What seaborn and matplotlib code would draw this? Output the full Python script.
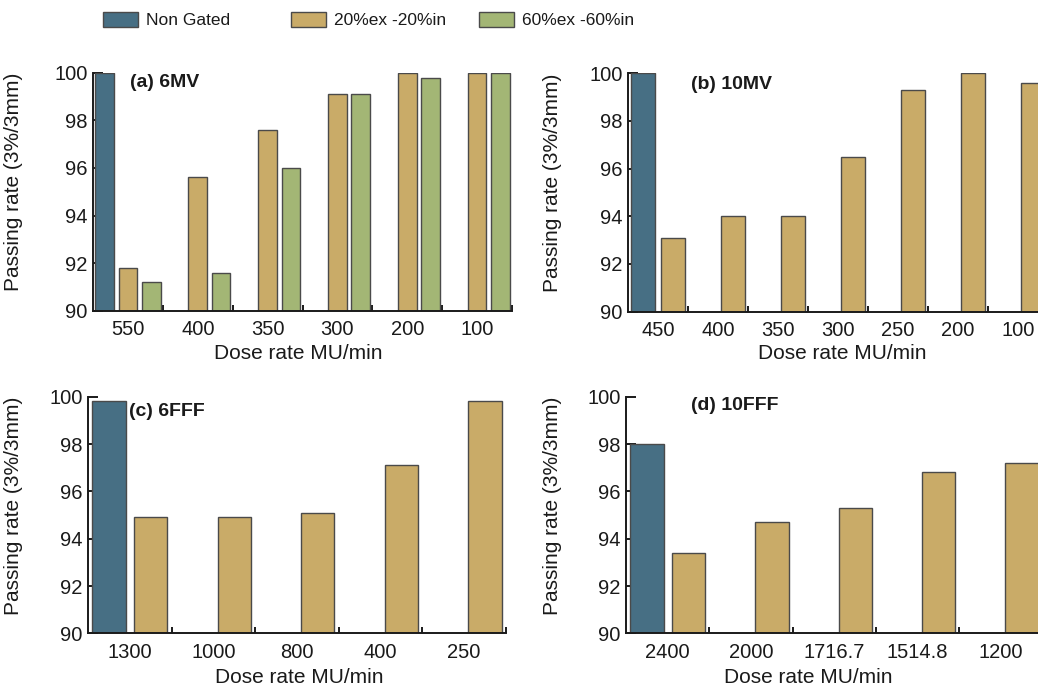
import numpy as np
import pandas as pd
import matplotlib
matplotlib.use("Agg")
import matplotlib.pyplot as plt
from matplotlib.patches import Patch
import seaborn as sns

# ---------------- data ----------------
series_names = ["Non Gated", "20%ex -20%in", "60%ex -60%in"]

a_cats = ["550", "400", "350", "300", "200", "100"]
a_nongated = [100.0]
a_g20 = [91.8, 95.6, 97.6, 99.1, 100.0, 100.0]
a_g60 = [91.2, 91.6, 96.0, 99.1, 99.8, 100.0]

b_cats = ["450", "400", "350", "300", "250", "200", "100"]
b_nongated = [100.0]
b_g20 = [93.1, 94.0, 94.0, 96.5, 99.3, 100.0, 99.6]

c_cats = ["1300", "1000", "800", "400", "250"]
c_nongated = [99.8]
c_g20 = [94.9, 94.9, 95.1, 97.1, 99.8]

d_cats = ["2400", "2000", "1716.7", "1514.8", "1200"]
d_nongated = [98.0]
d_g20 = [93.4, 94.7, 95.3, 96.8, 97.2]

panel_titles = ["(a) 6MV", "(b) 10MV", "(c) 6FFF", "(d) 10FFF"]
x_label = "Dose rate MU/min"
y_label = "Passing rate (3%/3mm)"
y_ticks = [90, 92, 94, 96, 98, 100]

colors = {"Non Gated": "#476f84", "20%ex -20%in": "#c9ab68", "60%ex -60%in": "#a3b675"}
edge = "#4a4a4a"


def long_df(cats, series):
    rows = []
    for name, vals in series:
        for c, v in zip(cats, vals):
            rows.append({"rate": c, "series": name, "value": v})
    return pd.DataFrame(rows)


panels = [
    (a_cats, [("Non Gated", a_nongated), ("20%ex -20%in", a_g20), ("60%ex -60%in", a_g60)]),
    (b_cats, [("Non Gated", b_nongated), ("20%ex -20%in", b_g20)]),
    (c_cats, [("Non Gated", c_nongated), ("20%ex -20%in", c_g20)]),
    (d_cats, [("Non Gated", d_nongated), ("20%ex -20%in", d_g20)]),
]

# ---------------- style ----------------
sns.set_style("ticks")
plt.rcParams["font.family"] = ["Liberation Sans", "DejaVu Sans"]
plt.rcParams["text.color"] = "#1a1a1a"
plt.rcParams["axes.labelcolor"] = "#1a1a1a"
plt.rcParams["xtick.color"] = "#1a1a1a"
plt.rcParams["ytick.color"] = "#1a1a1a"

fig = plt.figure(figsize=(10.38, 6.89), dpi=100)

positions = [
    [0.0896, 0.549, 0.4037, 0.3454],
    [0.6053, 0.5476, 0.4040, 0.3464],
    [0.0848, 0.0808, 0.4024, 0.3434],
    [0.6031, 0.0808, 0.4014, 0.3434],
]
title_xy = [(0.088, 0.957), (0.149, 0.954), (0.099, 0.937), (0.155, 0.965)]
ylab_x = [-0.167, -0.158, -0.156, -0.154]
xlab_xy = [(0.49, -0.14), (0.509, -0.135), (0.505, -0.145), (0.438, -0.145)]

for i, ((cats, series), pos) in enumerate(zip(panels, positions)):
    ax = fig.add_axes(pos)
    df = long_df(cats, series)
    hue_order = [s[0] for s in series]
    sns.barplot(data=df, x="rate", y="value", hue="series", order=cats,
                hue_order=hue_order, palette=colors, saturation=1,
                width=1.0, gap=0.2, dodge=True, edgecolor=edge, linewidth=1.0,
                errorbar=None, legend=False, ax=ax)
    n = len(cats)
    ax.set_xlim(-0.5, n - 0.5)
    ax.set_ylim(90, 100)
    ax.set_yticks(y_ticks)
    ax.set_yticklabels([str(t) for t in y_ticks])
    ax.set_xticks(np.arange(n))
    ax.set_xticklabels(cats)
    ax.set_xticks(np.arange(n) + 0.5, minor=True)
    ax.tick_params(axis="x", which="major", length=0, pad=7, labelsize=14.5)
    ax.tick_params(axis="x", which="minor", direction="in", length=4, width=1.4)
    ax.tick_params(axis="y", direction="in", length=7, width=1.4, pad=4, labelsize=14.5)
    for s in ["top", "right"]:
        ax.spines[s].set_visible(False)
    for s in ["left", "bottom"]:
        ax.spines[s].set_linewidth(1.4)
        ax.spines[s].set_color("#1a1a1a")
    ax.set_xlabel(x_label, fontsize=15)
    ax.set_ylabel(y_label, fontsize=15)
    ax.yaxis.set_label_coords(ylab_x[i], 0.54)
    ax.xaxis.set_label_coords(*xlab_xy[i])
    ax.text(title_xy[i][0], title_xy[i][1], panel_titles[i], transform=ax.transAxes,
            fontsize=14, fontweight="bold", ha="left", va="center")

# legend (three entries spread across the top)
leg_x = [103, 291, 479]
for name, x in zip(series_names, leg_x):
    h = Patch(facecolor=colors[name], edgecolor=edge, linewidth=1.0)
    fig.legend(handles=[h], labels=[name], loc="center left",
               bbox_to_anchor=(x / 1038, 1 - 20 / 689), frameon=False,
               borderpad=0, borderaxespad=0, handlelength=2.0, handleheight=1.0,
               handletextpad=0.45, prop={"family": ["Liberation Sans"], "size": 12.5})

fig.savefig("out.png", dpi=100)
